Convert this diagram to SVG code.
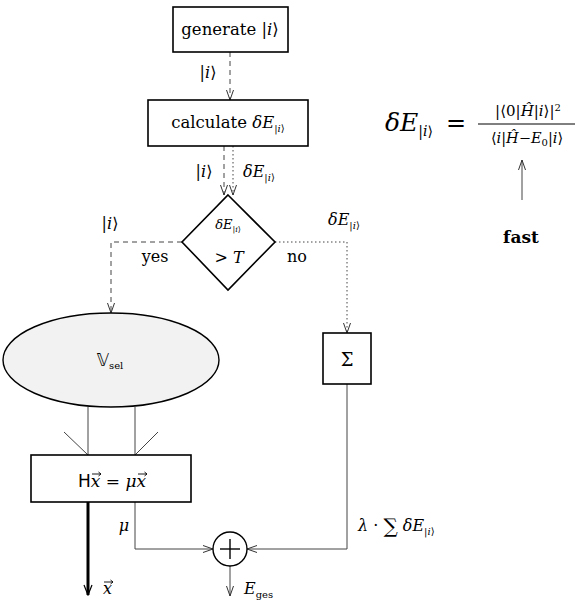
<svg xmlns="http://www.w3.org/2000/svg" width="580" height="604" viewBox="0 0 580 604">
<defs>
<marker id="ah" markerWidth="12" markerHeight="8" refX="11" refY="4" orient="auto" markerUnits="userSpaceOnUse">
<path d="M1,0.5 L11,4 L1,7.5" fill="none" stroke="#333" stroke-width="1"/>
</marker>
<marker id="ahb" markerWidth="12" markerHeight="10" refX="11" refY="5" orient="auto" markerUnits="userSpaceOnUse">
<path d="M1,1 L11,5 L1,9" fill="none" stroke="#000" stroke-width="1.2"/>
</marker>
</defs>
<style>
text{font-family:"DejaVu Serif","Liberation Serif",serif;fill:#000}
.t{font-size:16px}
.it{font-style:italic}
.sub{font-size:10px}
.box{fill:#fff;stroke:#000;stroke-width:1.6}
.c{fill:none;stroke:#444;stroke-width:1}
.dash{stroke-dasharray:5 4}
.dot{stroke-dasharray:1.5 2.5}
.sans{font-family:"DejaVu Sans","Liberation Sans",sans-serif}
.vec{fill:none;stroke:#000;stroke-width:0.9}
</style>

<g id="connectors">
<line class="c dash" x1="230" y1="52" x2="230" y2="100" marker-end="url(#ah)"/>
<line class="c dash" x1="224" y1="146" x2="224" y2="195" marker-end="url(#ah)"/>
<line class="c dot" x1="233" y1="146" x2="233" y2="195" marker-end="url(#ah)"/>
<polyline class="c dash" points="182,242 111,242 111,313" marker-end="url(#ah)"/>
<polyline class="c dot" points="275,242 347,242 347,333" marker-end="url(#ah)"/>
<line class="c" x1="88" y1="407" x2="88" y2="455"/>
<line class="c" x1="135" y1="407" x2="135" y2="455"/>
<line class="c" x1="64" y1="432" x2="88" y2="455"/>
<line class="c" x1="158" y1="432" x2="135" y2="455"/>
<line x1="88" y1="502" x2="88" y2="595" stroke="#000" stroke-width="3" marker-end="url(#ahb)"/>
<polyline class="c" points="135,502 135,549 213,549" marker-end="url(#ah)"/>
<polyline class="c" points="347,384 347,549 247,549" marker-end="url(#ah)"/>
<line class="c" x1="230" y1="566" x2="230" y2="596" marker-end="url(#ah)"/>
<line class="c" x1="522" y1="200" x2="522" y2="160" marker-end="url(#ah)"/>
<text class="t" x="208" y="78" text-anchor="middle">|<tspan class="it">i</tspan>⟩</text>
<text class="t" x="204" y="177" text-anchor="middle">|<tspan class="it">i</tspan>⟩</text>
<text class="t" x="243" y="177"><tspan class="it">δE</tspan><tspan class="sub" dy="4">|<tspan class="it">i</tspan>⟩</tspan></text>
<text class="t" x="110" y="229" text-anchor="middle">|<tspan class="it">i</tspan>⟩</text>
<text class="t" x="155" y="262" text-anchor="middle">yes</text>
<text class="t" x="297" y="262" text-anchor="middle">no</text>
<text class="t" x="328" y="225"><tspan class="it">δE</tspan><tspan class="sub" dy="4">|<tspan class="it">i</tspan>⟩</tspan></text>
<text class="t it" x="103" y="594">x</text>
<path class="vec" d="M104,582 L113,582 M110.5,580 L113,582 L110.5,584"/>
<text class="t it" x="124" y="531" text-anchor="middle">μ</text>
<text class="t" x="358" y="531"><tspan class="it">λ</tspan> · <tspan font-size="20" dy="2">∑</tspan><tspan dy="-2" class="it"> δE</tspan><tspan class="sub" dy="4">|<tspan class="it">i</tspan>⟩</tspan></text>
<text class="t" x="244" y="594"><tspan class="it">E</tspan><tspan class="sub" dy="4">ges</tspan></text>
</g>

<g id="generate">
<rect class="box" x="173" y="7" width="115" height="45"/>
<text x="230" y="35" text-anchor="middle" style="font-size:16.5px">generate |<tspan class="it">i</tspan>⟩</text>
</g>

<g id="calculate">
<rect class="box" x="148" y="100" width="160" height="46"/>
<text x="228" y="128" text-anchor="middle" style="font-size:16.5px">calculate <tspan class="it">δE</tspan><tspan class="sub" dy="4">|<tspan class="it">i</tspan>⟩</tspan></text>
</g>

<g id="decision">
<polygon class="box" points="228,195 275,242 228,290 182,242"/>
<text x="228" y="229" text-anchor="middle" style="font-size:13px"><tspan class="it">δE</tspan><tspan font-size="8" dy="3">|<tspan class="it">i</tspan>⟩</tspan></text>
<text class="t" x="229" y="263" text-anchor="middle">&gt; <tspan class="it">T</tspan></text>
</g>

<g id="vsel">
<ellipse cx="111" cy="360" rx="108" ry="47" fill="#f2f2f2" stroke="#000" stroke-width="1.4"/>
<text class="t" x="110" y="366" text-anchor="middle"><tspan class="sans" font-size="17">𝕍</tspan><tspan class="sub" dy="3">sel</tspan></text>
</g>

<g id="sigma">
<rect class="box" x="323" y="333" width="48" height="51"/>
<text x="347" y="366" text-anchor="middle" style="font-size:18px">Σ</text>
</g>

<g id="eigen">
<rect class="box" x="31" y="455" width="160" height="47"/>
<text x="78" y="487" style="font-size:17px"><tspan class="sans">H</tspan><tspan class="it">x</tspan> = <tspan class="it">μx</tspan></text>
<path class="vec" d="M92,474 L101,474 M98.5,472 L101,474 L98.5,476"/>
<path class="vec" d="M138,474 L147,474 M144.5,472 L147,474 L144.5,476"/>
</g>

<g id="plus">
<circle cx="230" cy="549" r="17" fill="#fff" stroke="#000" stroke-width="1.4"/>
<line x1="220" y1="549" x2="240" y2="549" stroke="#000" stroke-width="1.4"/>
<line x1="230" y1="539" x2="230" y2="559" stroke="#000" stroke-width="1.4"/>
</g>

<g id="formula">
<text x="385" y="131" style="font-size:25px"><tspan class="it">δE</tspan><tspan font-size="14" dy="5">|<tspan class="it">i</tspan>⟩</tspan></text>
<text x="456" y="131" text-anchor="middle" style="font-size:24px">=</text>
<line x1="478" y1="124" x2="575" y2="124" stroke="#000" stroke-width="1"/>
<text x="528" y="116" text-anchor="middle" style="font-size:15px">|⟨0|<tspan class="it">H&#x302;</tspan>|<tspan class="it">i</tspan>⟩|<tspan font-size="10" dy="-5">2</tspan></text>
<text x="527" y="143" text-anchor="middle" style="font-size:14.5px">⟨<tspan class="it">i</tspan>|<tspan class="it">H&#x302;</tspan>−<tspan class="it">E</tspan><tspan font-size="10" dy="3">0</tspan><tspan dy="-3">|</tspan><tspan class="it">i</tspan>⟩</text>
<text x="521" y="243" text-anchor="middle" font-weight="bold" style="font-size:17px">fast</text>
</g>
</svg>
